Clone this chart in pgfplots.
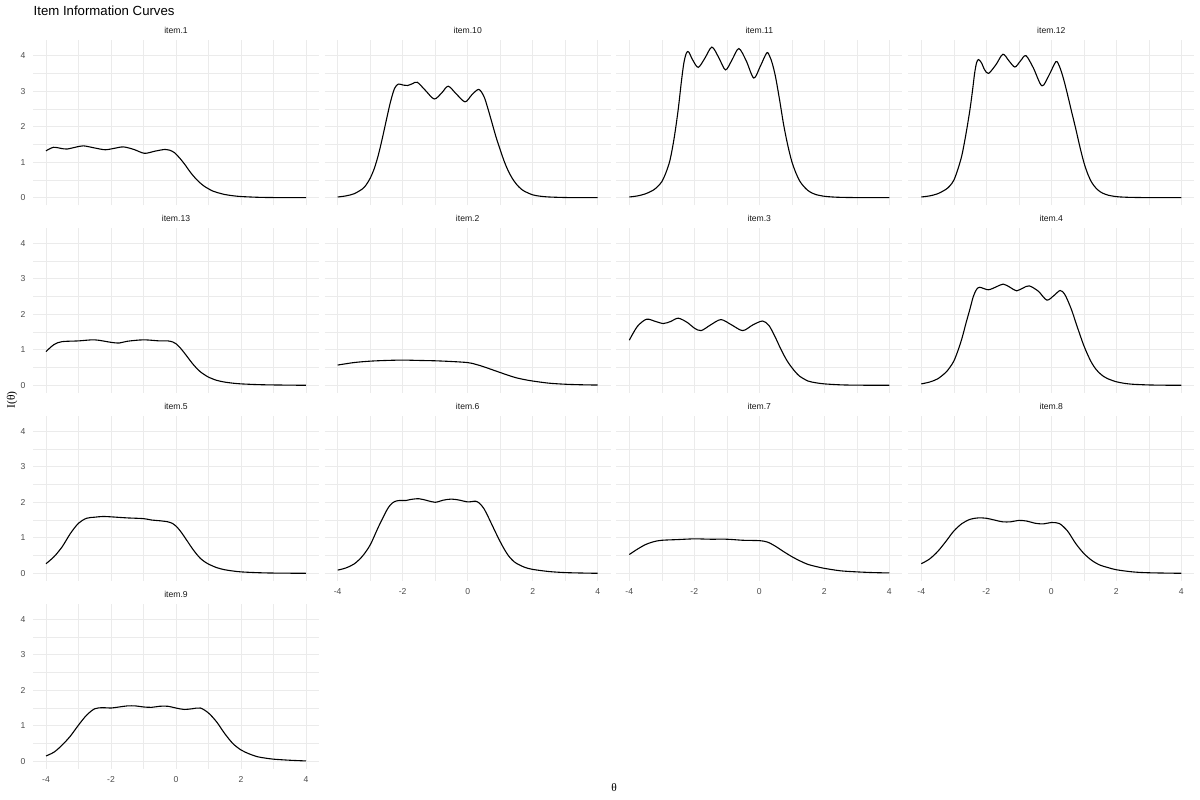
\documentclass[border=0pt]{standalone}
\usepackage{pgfplots}
\usepackage{pgfplotstable}
\pgfplotsset{compat=1.18}
\usepackage{fontspec}
\setmainfont{Liberation Sans}
\newfontfamily\seriffont{Liberation Serif}
\definecolor{gridgray}{HTML}{EBEBEB}
\definecolor{tickgray}{HTML}{4D4D4D}
\definecolor{stripgray}{HTML}{1A1A1A}

\pgfplotstableread{
x y
-4 1.32
-3.77 1.42
-3.55 1.39
-3.36 1.37
-3.1 1.42
-2.85 1.46
-2.5 1.40
-2.18 1.35
-1.9 1.39
-1.62 1.43
-1.3 1.36
-0.97 1.25
-0.65 1.31
-0.34 1.36
-0.2 1.34
-0.05 1.27
0.1 1.13
0.2 1.02
0.3 0.90
0.4 0.77
0.5 0.65
0.625 0.52
0.75 0.41
0.875 0.32
1 0.25
1.125 0.19
1.25 0.15
1.5 0.09
1.75 0.055
2 0.033
2.5 0.012
3 0.004
4 0
}\tOne

\pgfplotstableread{
x y
-4 0.02
-3.75 0.05
-3.5 0.11
-3.25 0.24
-3.125 0.36
-3 0.55
-2.875 0.82
-2.75 1.20
-2.625 1.68
-2.5 2.20
-2.375 2.70
-2.25 3.08
-2.13 3.20
-1.98 3.17
-1.85 3.16
-1.7 3.21
-1.55 3.25
-1.3 3.02
-1.03 2.78
-0.8 2.95
-0.6 3.14
-0.35 2.92
-0.08 2.70
0.13 2.90
0.34 3.05
0.5 2.85
0.625 2.50
0.75 2.10
0.875 1.70
1 1.35
1.125 1.02
1.25 0.75
1.375 0.54
1.5 0.38
1.625 0.26
1.75 0.18
2 0.08
2.25 0.04
2.5 0.02
3 0.005
3.5 0.001
4 0
}\tTen

\pgfplotstableread{
x y
-4 0.02
-3.75 0.05
-3.5 0.11
-3.25 0.22
-3.125 0.32
-3 0.45
-2.875 0.70
-2.75 1.05
-2.625 1.65
-2.5 2.45
-2.4 3.25
-2.32 3.80
-2.24 4.08
-2.17 4.10
-2.05 3.88
-1.88 3.67
-1.68 3.92
-1.46 4.24
-1.25 3.95
-1.04 3.60
-0.84 3.88
-0.63 4.20
-0.4 3.85
-0.17 3.37
0.03 3.70
0.23 4.08
0.32 3.98
0.4 3.78
0.5 3.40
0.625 2.75
0.75 2.05
0.875 1.48
1 1.02
1.125 0.70
1.25 0.46
1.375 0.31
1.5 0.20
1.625 0.13
1.75 0.085
2 0.04
2.25 0.02
2.5 0.01
3 0.003
4 0
}\tEleven

\pgfplotstableread{
x y
-4 0.02
-3.75 0.05
-3.5 0.11
-3.25 0.23
-3.125 0.33
-3 0.49
-2.875 0.80
-2.75 1.20
-2.625 1.80
-2.5 2.50
-2.42 3.05
-2.36 3.50
-2.3 3.80
-2.24 3.89
-2.15 3.80
-2.05 3.60
-1.93 3.50
-1.7 3.75
-1.49 4.04
-1.3 3.85
-1.12 3.68
-0.95 3.85
-0.78 4.00
-0.55 3.65
-0.29 3.15
-0.07 3.45
0.14 3.83
0.25 3.70
0.375 3.35
0.5 2.90
0.625 2.42
0.75 1.95
0.875 1.45
1 1.00
1.125 0.66
1.25 0.42
1.375 0.27
1.5 0.17
1.625 0.11
1.75 0.07
2 0.03
2.25 0.015
2.5 0.008
3 0.002
4 0
}\tTwelve

\pgfplotstableread{
x y
-4 0.95
-3.75 1.15
-3.5 1.23
-3 1.25
-2.5 1.28
-2 1.21
-1.75 1.19
-1.5 1.24
-1 1.28
-0.5 1.25
-0.25 1.25
-0.1 1.22
0 1.17
0.125 1.06
0.25 0.92
0.375 0.77
0.5 0.62
0.625 0.49
0.75 0.38
0.875 0.30
1 0.23
1.25 0.14
1.5 0.09
1.75 0.06
2 0.04
2.5 0.02
3 0.01
4 0
}\tThirteen

\pgfplotstableread{
x y
-4 0.57
-3.5 0.64
-3 0.68
-2.5 0.70
-2 0.71
-1.5 0.70
-1 0.69
-0.5 0.67
0 0.64
0.25 0.59
0.5 0.52
0.75 0.44
1 0.36
1.25 0.28
1.5 0.21
1.75 0.16
2 0.12
2.5 0.06
3 0.03
3.5 0.015
4 0.007
}\tTwo

\pgfplotstableread{
x y
-4 1.27
-3.75 1.66
-3.47 1.86
-3.2 1.80
-2.95 1.74
-2.72 1.80
-2.49 1.89
-2.2 1.76
-2.0 1.61
-1.79 1.54
-1.5 1.70
-1.18 1.85
-0.85 1.70
-0.51 1.54
-0.2 1.70
0.1 1.81
0.3 1.68
0.5 1.34
0.625 1.09
0.75 0.86
0.875 0.66
1 0.50
1.125 0.36
1.25 0.25
1.5 0.12
1.75 0.07
2 0.04
2.5 0.013
3 0.004
4 0
}\tThree

\pgfplotstableread{
x y
-4 0.04
-3.75 0.09
-3.5 0.18
-3.25 0.36
-3.125 0.50
-3 0.68
-2.875 0.97
-2.75 1.32
-2.625 1.75
-2.5 2.16
-2.4 2.50
-2.3 2.70
-2.2 2.76
-1.94 2.69
-1.7 2.77
-1.48 2.85
-1.27 2.76
-1.07 2.66
-0.87 2.74
-0.68 2.80
-0.4 2.65
-0.14 2.40
0.07 2.52
0.27 2.67
0.4 2.58
0.5 2.40
0.625 2.12
0.75 1.78
0.875 1.44
1 1.12
1.125 0.85
1.25 0.62
1.375 0.45
1.5 0.33
1.625 0.24
1.75 0.18
2 0.10
2.25 0.055
2.5 0.03
3 0.01
3.5 0.003
4 0
}\tFour

\pgfplotstableread{
x y
-4 0.27
-3.75 0.47
-3.5 0.75
-3.25 1.12
-3 1.41
-2.75 1.55
-2.5 1.58
-2.25 1.60
-2 1.59
-1.5 1.56
-1 1.54
-0.75 1.50
-0.5 1.48
-0.25 1.45
-0.1 1.40
0 1.33
0.125 1.20
0.25 1.04
0.375 0.87
0.5 0.70
0.625 0.55
0.75 0.42
0.875 0.33
1 0.26
1.25 0.16
1.5 0.10
1.75 0.065
2 0.04
2.5 0.018
3 0.007
4 0
}\tFive

\pgfplotstableread{
x y
-4 0.09
-3.75 0.15
-3.5 0.26
-3.25 0.47
-3 0.80
-2.75 1.30
-2.5 1.76
-2.375 1.93
-2.25 2.02
-2.1 2.05
-1.9 2.05
-1.75 2.08
-1.5 2.10
-1.25 2.05
-1 2.00
-0.75 2.06
-0.5 2.09
-0.25 2.06
0 2.01
0.25 2.03
0.375 1.96
0.5 1.82
0.625 1.60
0.75 1.36
0.875 1.12
1 0.89
1.125 0.68
1.25 0.50
1.375 0.37
1.5 0.28
1.75 0.17
2 0.11
2.5 0.05
3 0.02
3.5 0.008
4 0
}\tSix

\pgfplotstableread{
x y
-4 0.53
-3.75 0.68
-3.5 0.81
-3.25 0.89
-3 0.93
-2.5 0.95
-2 0.97
-1.5 0.96
-1 0.96
-0.5 0.93
0 0.92
0.25 0.88
0.5 0.76
0.75 0.61
1 0.47
1.25 0.35
1.5 0.25
1.75 0.19
2 0.14
2.5 0.07
3 0.04
3.5 0.02
4 0.01
}\tSeven

\pgfplotstableread{
x y
-4 0.27
-3.75 0.40
-3.5 0.61
-3.25 0.89
-3 1.19
-2.75 1.40
-2.5 1.52
-2.25 1.56
-2 1.55
-1.75 1.50
-1.5 1.45
-1.25 1.45
-1 1.49
-0.75 1.47
-0.5 1.41
-0.25 1.39
0 1.43
0.25 1.40
0.5 1.19
0.75 0.84
1 0.56
1.25 0.36
1.5 0.23
1.75 0.16
2 0.10
2.5 0.04
3 0.015
4 0
}\tEight

\pgfplotstableread{
x y
-4 0.15
-3.75 0.26
-3.5 0.46
-3.25 0.71
-3 1.02
-2.75 1.30
-2.5 1.48
-2.25 1.51
-2 1.50
-1.75 1.53
-1.5 1.56
-1.25 1.56
-1 1.53
-0.75 1.52
-0.5 1.55
-0.25 1.55
0 1.50
0.25 1.46
0.5 1.48
0.75 1.50
1 1.36
1.25 1.11
1.5 0.78
1.75 0.50
2 0.32
2.25 0.21
2.5 0.13
2.75 0.09
3 0.06
3.5 0.03
4 0.01
}\tNine

\pgfplotsset{
  every axis title shift=0pt,
  panel/.style={
    scale only axis, width=286pt, height=164.8pt,
    anchor=south west,
    xmin=-4.4, xmax=4.4, ymin=-0.211, ymax=4.43,
    xtick={-4,-2,0,2,4}, ytick={0,1,2,3,4},
    minor xtick={-3,-1,1,3}, minor ytick={0.5,1.5,2.5,3.5},
    grid=both,
    major grid style={draw=gridgray, line width=1.0pt},
    minor grid style={draw=gridgray, line width=0.6pt},
    axis line style={draw=none},
    major tick length=0pt, minor tick length=0pt,
    tick style={draw=none},
    xticklabels={}, yticklabels={},
    tick label style={font=\fontsize{8.6}{10}\selectfont, text=tickgray},
    xticklabel style={yshift=-4pt},
    yticklabel style={xshift=-4pt},
    title style={at={(0.5,1)}, anchor=base, yshift=6.4pt, inner sep=0pt,
      font=\fontsize{8.6}{10}\selectfont, text=stripgray},
  },
  xlab/.style={xticklabels={-4,-2,0,2,4}},
  ylab/.style={yticklabels={0,1,2,3,4}},
  curve/.style={black, line width=1.1pt, smooth, no marks},
}

\begin{document}
\begin{tikzpicture}
\path[fill=white, use as bounding box] (0pt,0pt) rectangle (1200pt,800pt);
\node[anchor=base west, inner sep=0pt, font=\fontsize{13.2}{15}\selectfont] at (33.5pt,784pt) {Item Information Curves};
\node[inner sep=0pt, font=\seriffont\fontsize{11.5}{13}\selectfont] at (614pt,12pt) {θ};
\node[inner sep=0pt, rotate=90, font=\seriffont\fontsize{11.5}{13}\selectfont] at (12pt,400pt) {I(θ)};

% row 1
\begin{axis}[panel, ylab, at={(33pt,594.8pt)}, title={item.1}]
\addplot[curve] table {\tOne};
\end{axis}
\begin{axis}[panel, at={(324.7pt,594.8pt)}, title={item.10}]
\addplot[curve] table {\tTen};
\end{axis}
\begin{axis}[panel, at={(616.3pt,594.8pt)}, title={item.11}]
\addplot[curve] table {\tEleven};
\end{axis}
\begin{axis}[panel, at={(908.3pt,594.8pt)}, title={item.12}]
\addplot[curve] table {\tTwelve};
\end{axis}
% row 2
\begin{axis}[panel, ylab, at={(33pt,407.2pt)}, title={item.13}]
\addplot[curve] table {\tThirteen};
\end{axis}
\begin{axis}[panel, at={(324.7pt,407.2pt)}, title={item.2}]
\addplot[curve] table {\tTwo};
\end{axis}
\begin{axis}[panel, at={(616.3pt,407.2pt)}, title={item.3}]
\addplot[curve] table {\tThree};
\end{axis}
\begin{axis}[panel, at={(908.3pt,407.2pt)}, title={item.4}]
\addplot[curve] table {\tFour};
\end{axis}
% row 3
\begin{axis}[panel, ylab, at={(33pt,219.2pt)}, title={item.5}]
\addplot[curve] table {\tFive};
\end{axis}
\begin{axis}[panel, xlab, at={(324.7pt,219.2pt)}, title={item.6}]
\addplot[curve] table {\tSix};
\end{axis}
\begin{axis}[panel, xlab, at={(616.3pt,219.2pt)}, title={item.7}]
\addplot[curve] table {\tSeven};
\end{axis}
\begin{axis}[panel, xlab, at={(908.3pt,219.2pt)}, title={item.8}]
\addplot[curve] table {\tEight};
\end{axis}
% row 4
\begin{axis}[panel, xlab, ylab, at={(33pt,31.2pt)}, title={item.9}]
\addplot[curve] table {\tNine};
\end{axis}
\end{tikzpicture}
\end{document}
